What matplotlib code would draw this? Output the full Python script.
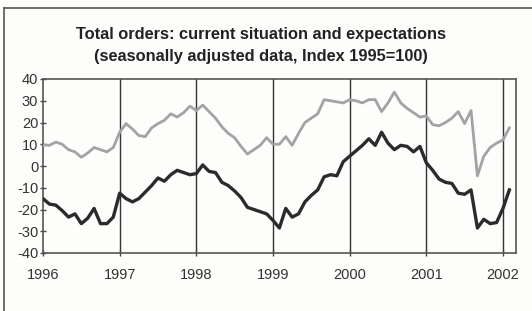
import matplotlib
matplotlib.use("Agg")
import matplotlib.pyplot as plt
import numpy as np

plt.rcParams['font.family'] = ['Liberation Sans', 'DejaVu Sans']

start_year = 1996
years = [1996, 1997, 1998, 1999, 2000, 2001, 2002]
yticks = [-40, -30, -20, -10, 0, 10, 20, 30, 40]

# Current situation (black), monthly Jan 1996 - Feb 2002
current = [
    -15, -17.5, -18, -20.5, -23.5, -22, -26.5, -24, -19.5, -26.5, -26.5, -23.5,
    -12.5, -15, -16.5, -15, -12, -9, -5.5, -7, -4, -2, -3, -4,
    -3.5, 0.5, -2.5, -3, -7.5, -9, -11.5, -14.5, -19, -20, -21, -22,
    -25, -28.5, -19.5, -23.5, -22, -16.5, -13.5, -11, -5, -4, -4.5, 2,
    4.5, 7, 9.5, 12.5, 9.5, 15.5, 10.5, 7.5, 9.5, 9, 6.5, 9,
    1.5, -2, -6, -7.5, -8, -12.5, -13, -11, -28.5, -24.5, -26.5, -26,
    -19.5, -11,
]
# Expectations (grey)
expect = [
    9.7, 9.5, 11, 10, 7.5, 6.5, 4, 6, 8.5, 7.5, 6.5, 8.5,
    15.5, 19.5, 17, 14, 13.5, 17.5, 19.5, 21, 24, 22.5, 24.5, 27.5,
    25.5, 28, 25, 22, 18, 15, 13, 9, 5.5, 7.5, 9.5, 13,
    10, 10, 13.5, 9.5, 15, 20, 22, 24, 30.5, 30, 29.5, 29,
    30.5, 30, 29, 30.5, 30.5, 25, 29, 34, 29, 26.5, 24.5, 22.5,
    23, 19, 18.5, 20, 22, 25, 19.5, 25.5, -4.5, 4.5, 8.5, 10.5,
    12, 17.5,
]

t = start_year + np.arange(len(current)) / 12.0

fig = plt.figure(figsize=(5.32, 3.11), dpi=100)
fig.patch.set_facecolor('#fdfdfb')

# outer frame (left and top edges visible)
fig.add_artist(plt.Line2D([4/532, 4/532], [0, 1 - 8/311], transform=fig.transFigure,
                          color='#555555', lw=1.2))
fig.add_artist(plt.Line2D([4/532, 1], [1 - 8/311, 1 - 8/311], transform=fig.transFigure,
                          color='#555555', lw=1.2))

ax = fig.add_axes([43/532, 1 - 253/311, (516 - 43)/532, (253 - 79)/311])
ax.set_facecolor('#fdfdfb')
ax.set_xlim(1996, 2002.17)
ax.set_ylim(-40, 40)

for y in years[1:]:
    ax.axvline(y, color='#333333', lw=1.0, zorder=1)

ax.plot(t, expect, color='#a3a3a3', lw=2.0, zorder=3)
ax.plot(t, current, color='#2b2b2b', lw=2.4, zorder=4)

ax.set_xticks(years)
ax.set_xticklabels([str(y) for y in years])
ax.set_yticks(yticks)
ax.set_yticklabels([str(v) for v in yticks])
ax.tick_params(direction='inout', length=5, width=1, colors='#444444',
               labelcolor='#333333', labelsize=10.5)
ax.tick_params(axis='x', pad=8)
ax.tick_params(axis='y', pad=1)
for s in ax.spines.values():
    s.set_color('#555555')
    s.set_linewidth(1.2)

fig.text(261/532, 1 - 35/311, 'Total orders: current situation and expectations',
         ha='center', va='center', fontsize=11.8, fontweight='bold', color='#222222')
fig.text(261/532, 1 - 57/311, '(seasonally adjusted data, Index 1995=100)',
         ha='center', va='center', fontsize=11.8, fontweight='bold', color='#222222')

fig.savefig('out.png', dpi=100, facecolor=fig.get_facecolor())
